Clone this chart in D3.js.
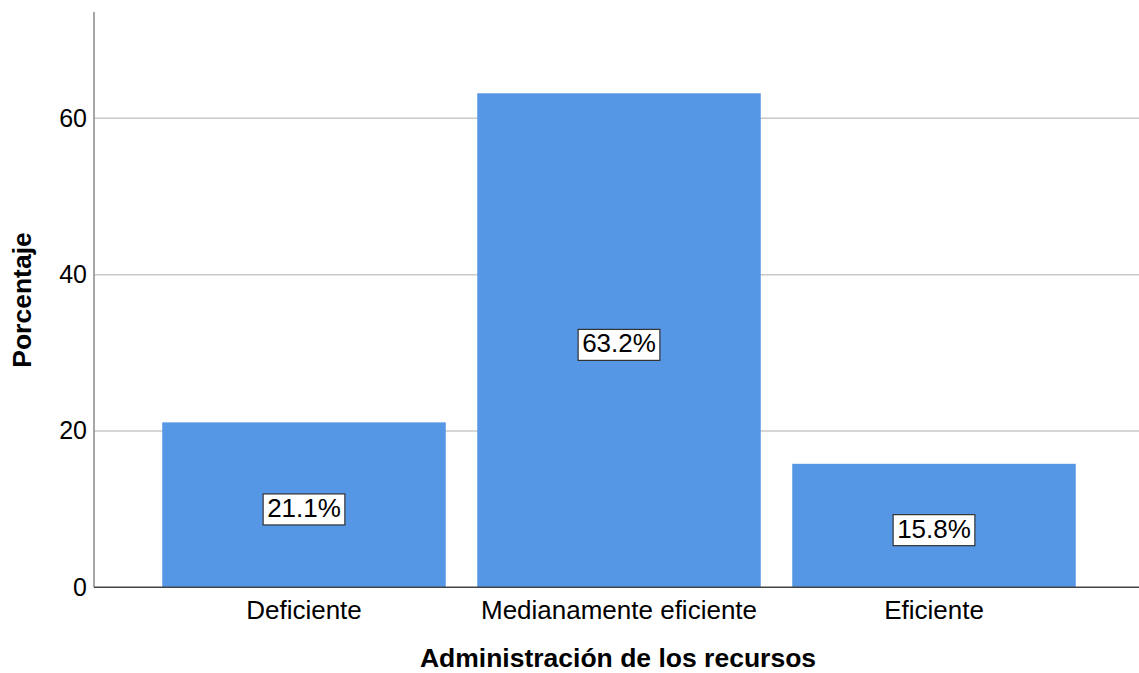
<!DOCTYPE html>
<html><head><meta charset="utf-8">
<script src="https://cdn.jsdelivr.net/npm/d3@7"></script>
<style>body{margin:0;background:#fff}text{font-family:"Liberation Sans",Arial,sans-serif}</style>
</head><body><svg id="c" width="1139" height="673"></svg>
<script>
const categories = ["Deficiente", "Medianamente eficiente", "Eficiente"];
const values = [21.1, 63.2, 15.8];
const labels = ["21.1%", "63.2%", "15.8%"];
const yTicks = [0, 20, 40, 60];
const xTitle = "Administración de los recursos";
const yTitle = "Porcentaje";

(function () {
const svg = d3.select("#c");
const pL = 94, pR = 1139, pT = 12, pB = 587.3;
const y = d3.scaleLinear().domain([0, 73.6]).range([pB, pT]);
const x = d3.scaleBand().domain(categories).range([146.5, 1091.5]).paddingInner(0.1).paddingOuter(0.05);

svg.append("g").selectAll("line").data(yTicks.filter(d => d > 0)).join("line")
  .attr("x1", pL).attr("x2", pR).attr("y1", d => y(d)).attr("y2", d => y(d))
  .attr("stroke", "#c8c8c8").attr("stroke-width", 1.5);

svg.append("g").selectAll("rect").data(values).join("rect")
  .attr("x", (d, i) => x(categories[i])).attr("width", x.bandwidth())
  .attr("y", d => y(d)).attr("height", d => pB - y(d))
  .attr("fill", "#5596e5");

const yAxis = svg.append("g").attr("transform", `translate(${pL},0)`)
  .call(d3.axisLeft(y).tickValues(yTicks).tickSize(0).tickPadding(7));
yAxis.select(".domain").attr("stroke", "#888").attr("stroke-width", 1.5).attr("d", `M0,${pT}V${pB}`);
yAxis.selectAll("text").attr("font-size", 25).attr("fill", "#000").attr("font-family", "Liberation Sans, Arial, sans-serif");

const xAxis = svg.append("g").attr("transform", `translate(0,${pB})`)
  .call(d3.axisBottom(x).tickSize(0).tickPadding(0));
xAxis.select(".domain").attr("stroke", "#444").attr("stroke-width", 1.5).attr("d", `M${pL},0H${pR}`);
xAxis.selectAll("text").attr("font-size", 26).attr("fill", "#000").attr("dy", null).attr("y", 32)
  .attr("font-family", "Liberation Sans, Arial, sans-serif");

const lg = svg.append("g").selectAll("g").data(values).join("g")
  .attr("transform", (d, i) => `translate(${x(categories[i]) + x.bandwidth() / 2},${(y(d) + pB) / 2 + 3})`);
lg.append("text").text((d, i) => labels[i]).attr("text-anchor", "middle").attr("dy", "0.35em")
  .attr("font-size", 26).attr("fill", "#000");
lg.each(function () {
  const g = d3.select(this);
  const b = g.select("text").node().getBBox();
  g.insert("rect", "text").attr("x", b.x - 4).attr("y", b.y + 1).attr("width", b.width + 8).attr("height", b.height + 1)
    .attr("fill", "#fff").attr("stroke", "#333").attr("stroke-width", 1.2);
});

svg.append("text").attr("x", 618).attr("y", 667).attr("text-anchor", "middle")
  .attr("font-size", 26.5).attr("font-weight", "bold").text(xTitle);
svg.append("text").attr("transform", "translate(31,300) rotate(-90)").attr("text-anchor", "middle")
  .attr("font-size", 26.5).attr("font-weight", "bold").text(yTitle);
})();
</script></body></html>
